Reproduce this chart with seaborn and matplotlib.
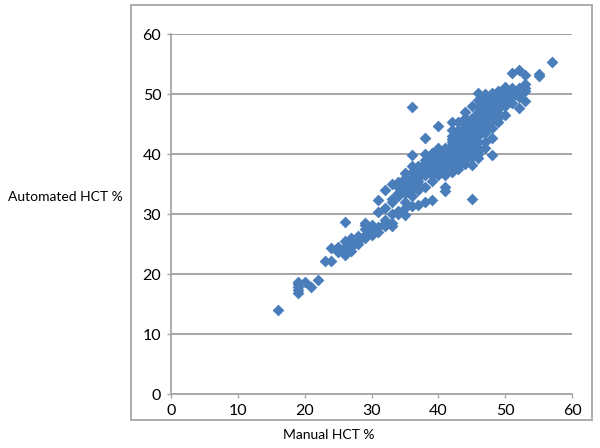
import numpy as np
import pandas as pd
import seaborn as sns
import matplotlib.pyplot as plt
from matplotlib.patches import Rectangle

sns.set_theme(style="white")
plt.rcParams['font.family'] = ['Lato', 'DejaVu Sans']

# automated readings grouped by the (whole number) manual reading
manual_values = list(range(16, 58))
auto_values = [
    [14.0],  # 16
    [], [],
    [16.8, 17.3, 17.8, 18.3, 18.7],  # 19
    [18.7],
    [17.8],
    [19.0],
    [22.1],
    [22.2, 24.4],
    [23.7, 24.2, 24.5],  # 25
    [23.2, 23.8, 24.5, 25.5, 28.6],
    [23.8, 24.5, 25.0, 25.8, 26.0],
    [25.0, 25.5, 26.0, 26.3],
    [26.0, 26.5, 27.5, 28.2, 28.5],
    [26.5, 27.0, 27.5, 28.0, 28.2],  # 30
    [27.0, 27.8, 30.4, 32.3],
    [28.5, 29.0, 28.0, 31.0, 34.0],
    [28.0, 28.5, 30.0, 32.0, 32.5, 35.0],
    [30.0, 30.5, 33.0, 33.5, 34.5, 35.3],
    [29.8, 31.0, 32.0, 33.5, 34.0, 34.5, 35.0, 36.0, 36.8],  # 35
    [31.3, 33.0, 34.0, 34.5, 35.0, 35.5, 36.0, 37.0, 38.0, 39.8, 47.8],
    [31.5, 34.0, 35.0, 35.5, 36.0, 36.5, 37.0, 38.0],
    [32.0, 34.5, 36.5, 37.0, 37.5, 38.0, 38.5, 39.0, 40.0, 42.7],
    [32.3, 35.5, 36.5, 37.0, 37.5, 38.0, 38.5, 39.5, 40.2],
    [36.5, 37.0, 37.5, 38.0, 38.5, 39.0, 39.5, 40.0, 41.0, 44.7],  # 40
    [33.8, 34.5, 36.5, 37.5, 38.0, 38.5, 39.0, 39.5, 40.0, 40.5, 41.0],
    [37.0, 38.0, 38.5, 39.0, 39.5, 40.0, 40.5, 41.0, 41.5, 42.0, 42.5, 43.0, 44.0, 45.4],
    [37.5, 38.0, 39.0, 39.5, 40.0, 40.5, 41.0, 41.5, 42.0, 42.5, 43.0, 43.5, 44.0, 45.4],
    [38.3, 39.0, 39.5, 40.0, 40.5, 41.0, 41.5, 42.0, 42.5, 43.0, 43.5, 44.0, 44.5, 45.0, 46.0, 47.0],
    [32.5, 38.2, 39.5, 40.0, 40.5, 41.0, 41.5, 42.0, 42.5, 43.0, 43.5, 44.0, 44.5, 45.0, 45.5, 46.0, 48.0],  # 45
    [39.3, 40.0, 40.5, 41.0, 42.0, 43.0, 43.5, 44.0, 44.5, 45.0, 45.5, 46.0, 46.5, 47.0, 48.0, 49.0, 50.2],
    [41.0, 42.0, 43.5, 44.0, 44.5, 45.0, 45.5, 46.0, 46.5, 47.0, 47.5, 48.0, 48.5, 49.0, 49.5, 50.0],
    [39.9, 42.6, 44.3, 45.5, 46.0, 46.5, 47.0, 47.5, 48.0, 48.5, 49.0, 49.5, 50.0, 50.2],
    [45.4, 46.0, 46.8, 47.5, 48.0, 48.5, 49.0, 49.5, 50.0, 50.5],
    [46.5, 48.0, 48.5, 49.0, 49.5, 50.0, 50.5, 51.2],  # 50
    [48.5, 49.5, 50.0, 50.5, 51.0, 53.5],
    [47.7, 49.5, 50.0, 50.5, 51.0, 54.0],
    [48.9, 50.5, 51.0, 51.7, 53.2],
    [],
    [53.0, 53.4],  # 55
    [],
    [55.3],
]
x_ticks = [0, 10, 20, 30, 40, 50, 60]
y_ticks = [0, 10, 20, 30, 40, 50, 60]

df = pd.DataFrame({
    'manual': [m for m, ys in zip(manual_values, auto_values) for _ in ys],
    'auto': [y for ys in auto_values for y in ys],
})

fig = plt.figure(figsize=(6.0, 4.48), dpi=100)
ax = fig.add_axes([171 / 600, 1 - 394 / 448, 401 / 600, 360 / 448])

# outer chart frame
fig.add_artist(Rectangle((131 / 600, 1 - 420 / 448), 461 / 600, 415 / 448,
                         transform=fig.transFigure, fill=False,
                         edgecolor='#a6a6a6', linewidth=1.3))

sns.scatterplot(ax=ax, data=df, x='manual', y='auto', marker='D', s=36,
                color='#4a7ebb', edgecolor='#4a7ebb', linewidth=0, zorder=3, clip_on=False)

ax.set_xlim(0, 60)
ax.set_ylim(0, 60)
ax.set_xticks(x_ticks)
ax.set_yticks(y_ticks)
ax.grid(axis='y', color='#8c8c8c', linewidth=1.1)
ax.grid(axis='x', visible=False)
ax.set_axisbelow(True)
for side in ['top', 'right']:
    ax.spines[side].set_visible(False)
for side in ['left', 'bottom']:
    ax.spines[side].set_color('#a6a6a6')
    ax.spines[side].set_linewidth(1.3)
ax.tick_params(axis='both', length=3, width=1, color='#a6a6a6', labelsize=11.5,
               labelcolor='black', pad=4, bottom=True, left=True)

ax.set_xlabel('')
ax.set_ylabel('')
fig.text(329 / 600, 1 - 435 / 448, 'Manual HCT %', ha='center', va='center', fontsize=10, color='black')
fig.text(65 / 600, 1 - 197 / 448, 'Automated HCT %', ha='center', va='center', fontsize=10, color='black')

plt.savefig('out.png', dpi=100)
